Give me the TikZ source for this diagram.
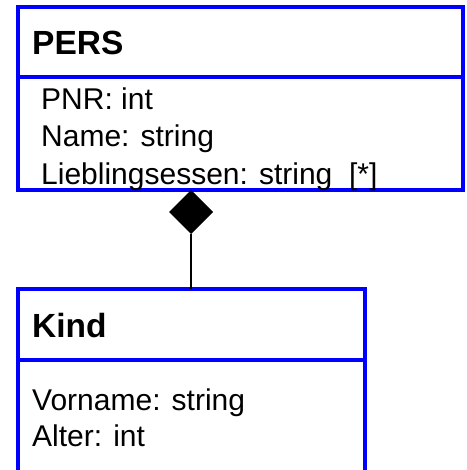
\documentclass[tikz,border=0pt]{standalone}
\usepackage{fontspec}
\setmainfont{Liberation Sans}
\usetikzlibrary{shapes.geometric}
\definecolor{umlblue}{RGB}{0,0,255}
\tikzset{
  boxline/.style={draw=umlblue, line width=4pt},
  classbox/.style={boxline, rectangle, inner sep=0pt, outer sep=0pt, anchor=north west},
  header/.style={anchor=base west, inner sep=0pt, font=\bfseries\fontsize{33.5}{40}\selectfont},
  attr/.style={anchor=base west, inner sep=0pt, font=\fontsize{30}{36}\selectfont},
  compdiamond/.style={diamond, fill=black, draw=none, minimum width=44pt, minimum height=44pt, inner sep=0pt, outer sep=0pt, anchor=north},
  link/.style={draw=black, line width=2pt}
}
\begin{document}
\begin{tikzpicture}[x=1pt, y=-1pt]
\useasboundingbox (0,0) rectangle (466,470);
\clip (0,0) rectangle (466,470);
% PERS class
\node[classbox, minimum width=445pt, minimum height=183pt] (pers) at (18,7) {};
\coordinate (persdivL) at (18,77.5);
\coordinate (persdivR) at (463,77.5);
\draw[boxline] (persdivL) -- (persdivR);
\node[header] (persname) at (32,55) {PERS};
\node[attr] (pnr) at (41,110) {PNR: int};
\node[attr] (pname) at (41,147) {Name: string};
\node[attr] (pfood) at (41,184) {Lieblingsessen: string\ \ [*]};
% Kind class (open at bottom)
\node[classbox, minimum width=347pt, minimum height=200pt] (kind) at (18,289) {};
\coordinate (kinddivL) at (18,360);
\coordinate (kinddivR) at (365,360);
\draw[boxline] (kinddivL) -- (kinddivR);
\node[header] (kindname) at (32,337) {Kind};
\node[attr] (vorname) at (32,410) {Vorname: string};
\node[attr] (alter) at (32,446) {Alter: int};
% composition
\coordinate (comptop) at (191,190);
\node[compdiamond] (dia) at (comptop) {};
\coordinate (kindtop) at (191,289);
\draw[link] (dia.south) -- (kindtop);
\end{tikzpicture}
\end{document}
